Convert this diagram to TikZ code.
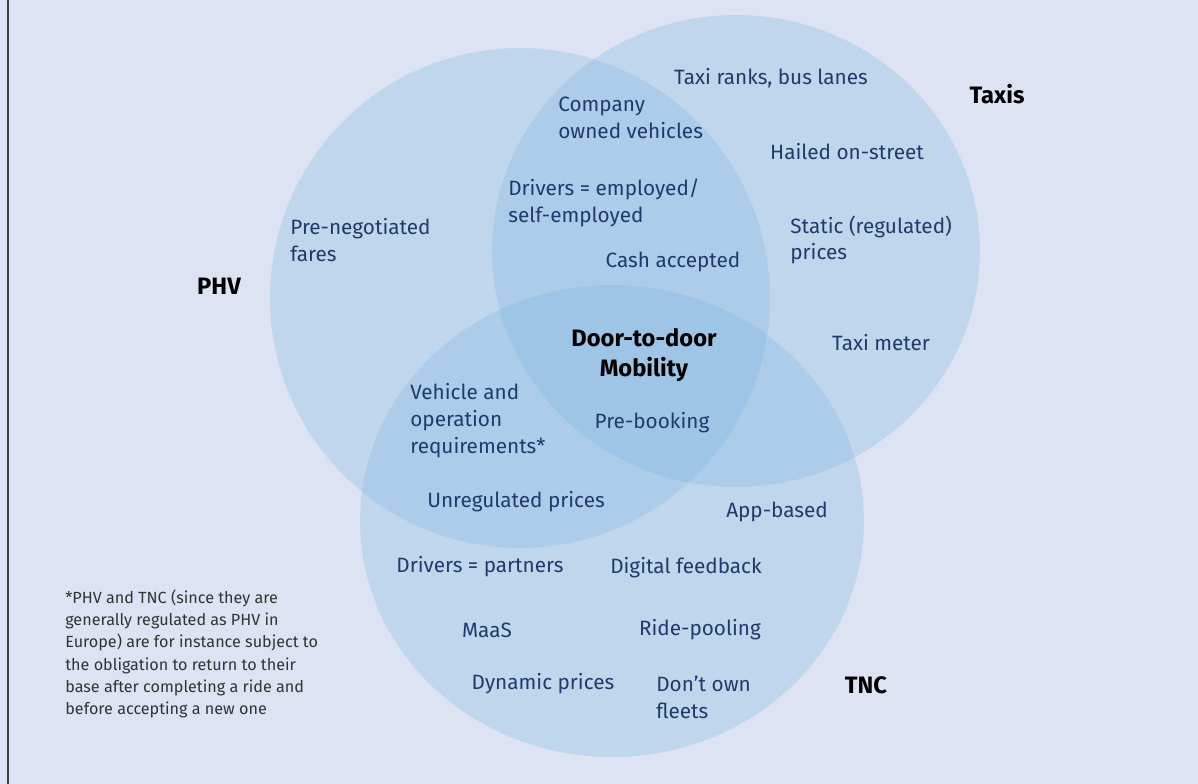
\documentclass[tikz,border=0pt]{standalone}
\usepackage{fontspec}
\setmainfont{Fira Sans}
\definecolor{bgcol}{HTML}{DDE3F2}
\definecolor{setcol}{HTML}{7FB8E2}
\definecolor{txtcol}{HTML}{1F3A6B}
\definecolor{notecol}{HTML}{333333}
\newcommand{\setup}{
    \coordinate (phv) at (520,298);
    \coordinate (taxi) at (736,251);
    \coordinate (tnc) at (612,521);
}
\newcommand{\venn}[1]{
    \fill[setcol,fill opacity=#1] (phv) ellipse [x radius=5cm, y radius=5cm];
    \fill[setcol,fill opacity=#1] (taxi) ellipse [x radius=4.88cm, y radius=4.72cm];
    \fill[setcol,fill opacity=#1] (tnc) ellipse [x radius=5.04cm, y radius=4.72cm];
}

\begin{document}
\begin{tikzpicture}[x=0.02cm,y=-0.02cm,
    item/.style={text=txtcol,font=\fontsize{11.8}{15.3}\selectfont,inner sep=0pt},
    litem/.style={item,anchor=west,align=left},
    setname/.style={text=black,font=\fontsize{13.5}{17}\selectfont\bfseries,inner sep=0pt}]
          \fill[bgcol] (0,0) rectangle (1198,784);
          \useasboundingbox (0,0) rectangle (1198,784);
          \draw[line width=1.2pt,black!75] (8,0) -- (8,784);

          \setup;
          \venn{0.3};

          % set names
          \node[setname] (phvname) at (219,286) {PHV};
          \node[setname] (taxiname) at (997,94) {Taxis};
          \node[setname] (tncname) at (866,685) {TNC};
          \node[setname,align=center] (core) at (644,355) {Door-to-door\\Mobility};

          % taxis
          \node[item] (ranks) at (771,78) {Taxi ranks, bus lanes};
          \node[item] (hailed) at (847,152) {Hailed on-street};
          \node[litem] (static) at (790,240) {Static (regulated)\\prices};
          \node[item] (meter) at (881,343) {Taxi meter};

          % phv + taxis
          \node[litem] (owned) at (558,118) {Company\\owned vehicles};
          \node[litem] (employed) at (508,203) {Drivers = employed/\\self-employed};
          \node[item] (cash) at (673,262) {Cash accepted};

          % phv
          \node[litem] (fares) at (290,240) {Pre-negotiated\\fares};

          % phv + tnc
          \node[litem] (reqs) at (410,421) {Vehicle and\\operation\\requirements*};
          \node[item] (unreg) at (516,502) {Unregulated prices};
          \node[item] (prebook) at (652,423) {Pre-booking};

          % tnc
          \node[item] (app) at (777,512) {App-based};
          \node[item] (partners) at (480,567) {Drivers = partners};
          \node[item] (feedback) at (686,568) {Digital feedback};
          \node[item] (maas) at (487,630) {MaaS};
          \node[item] (pooling) at (700,630) {Ride-pooling};
          \node[item] (dynamic) at (543,684) {Dynamic prices};
          \node[litem] (fleets) at (656,697) {Don’t own\\fleets};

          \node[anchor=west,align=left,inner sep=0pt,text=notecol,font=\fontsize{9.2}{12.7}\selectfont] (note) at (65,654)
            {*PHV and TNC (since they are\\generally regulated as PHV in\\Europe) are for instance subject to\\the obligation to return to their\\base after completing a ride and\\before accepting a new one};
        \end{tikzpicture}
\end{document}
